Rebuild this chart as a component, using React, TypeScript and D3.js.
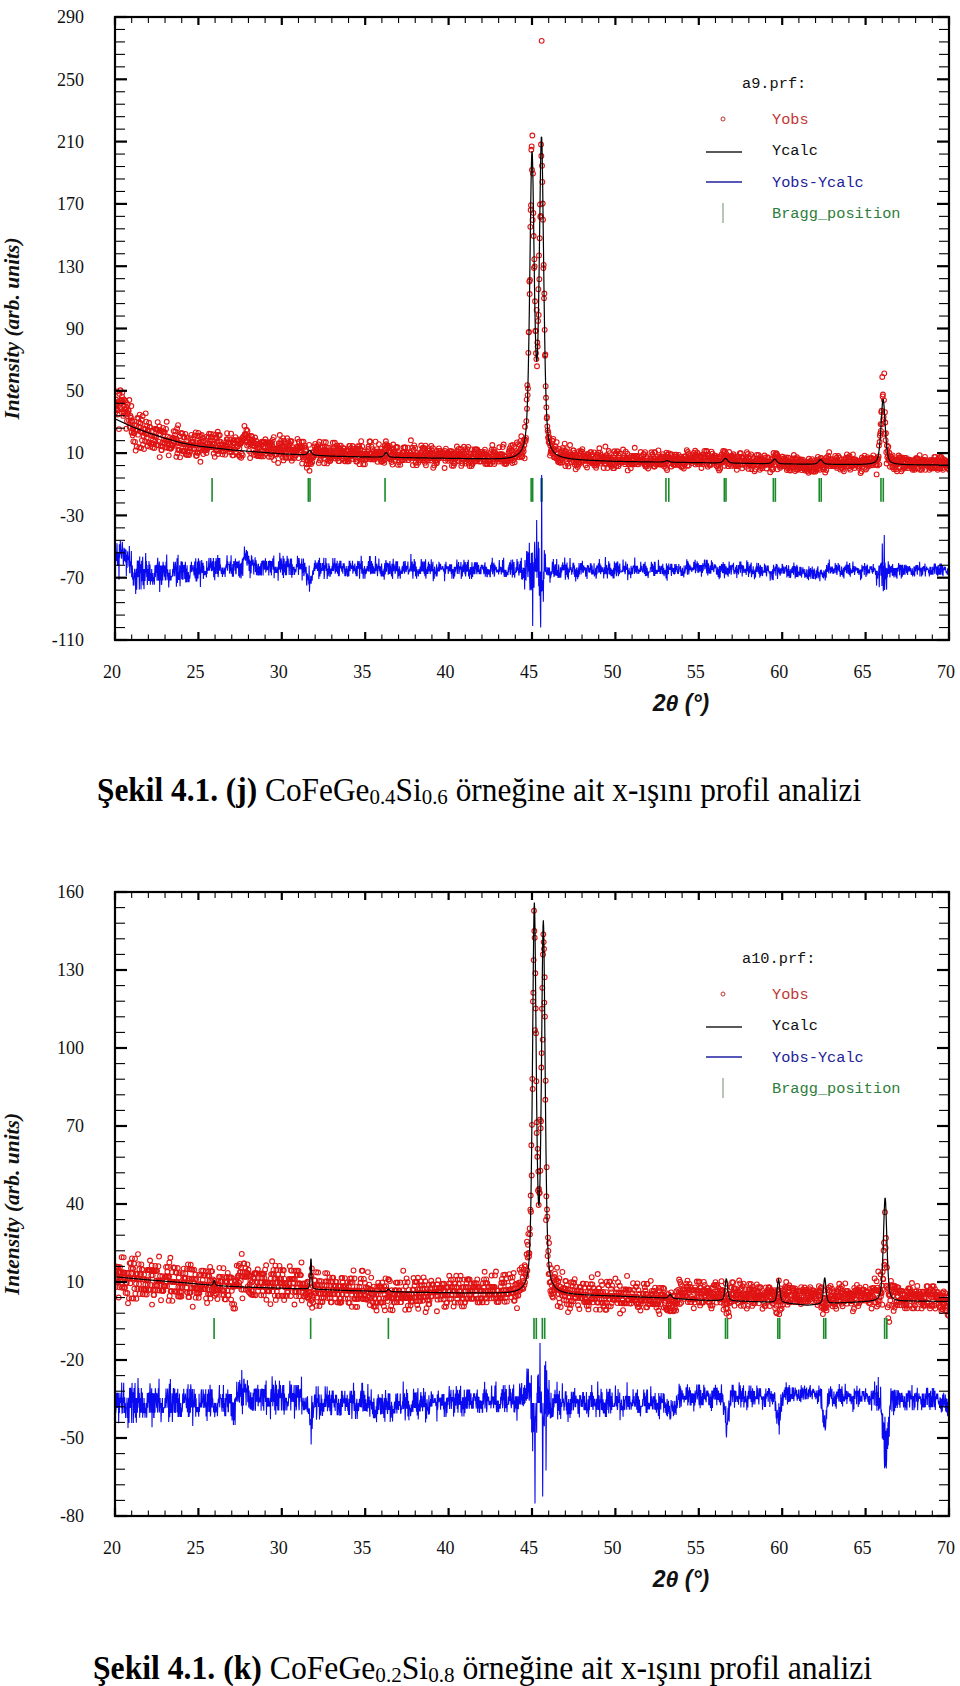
import React, { useMemo } from "react";
import * as d3 from "d3";

// ---------------- shared axis data ----------------
const X_MIN = 20;
const X_MAX = 70;
const STEP = 0.02; // instrument step (deg)
const X_TICKS = [20, 25, 30, 35, 40, 45, 50, 55, 60, 65, 70];
const X_MINOR_STEP = 1;

// ---------------- panel (j): a9.prf ----------------
const Y_TICKS_J = [290, 250, 210, 170, 130, 90, 50, 10, -30, -70, -110];
const Y_MINOR_J = 8;
// background of Ycalc, read at knots [2theta, intensity]
const BG_J = [
  [20, 32], [21, 27], [22, 23], [23, 19.5], [24, 16.5], [25, 14.5], [27, 12], [30, 9.5],
  [33, 8], [35, 7.5], [40, 6.5], [42, 6], [44, 5], [46, 5], [47, 5.3], [50, 4.5],
  [55, 3.8], [60, 3], [65, 2.5], [70, 2.3],
];
// reflections of Ycalc: [centre, height above background, FWHM]
const PEAKS_J = [
  [31.68, 3, 0.25], [36.25, 3, 0.25], [45.0, 192, 0.31], [45.57, 202, 0.31],
  [53.1, 1, 0.3], [56.6, 3, 0.3], [59.55, 3, 0.3], [62.3, 3, 0.3], [66.05, 42, 0.3],
];
// systematic Yobs - Ycalc [2theta, residual]
const RES_J = [
  [20, 13], [20.4, 11], [20.8, 7], [21.1, -1], [23, -1], [25, 0], [25.5, 2.5], [27.4, 2.5],
  [27.8, 9], [28.2, 4], [28.6, 3], [31.3, 3], [31.6, -7], [31.9, 2], [40, 1.5], [44.4, 1],
  [44.5, 0], [46.2, 0], [46.4, 1], [54, 1], [55, 3], [56, 2], [56.6, 0], [57, 2], [59.5, 0],
  [60, 1], [62.3, -2], [62.7, 1], [65.5, 1], [65.7, 0], [66.4, 0], [66.6, 1], [70, 1],
];
// single-point spikes of the difference curve [2theta, residual]
const SPIKES_J = [
  [44.58, 5], [44.68, 16], [44.78, 10], [44.88, -7], [45.04, -23], [45.18, 18], [45.28, 37],
  [45.38, 10], [45.52, -36], [45.58, 62], [45.68, -14], [45.88, -8], [46.08, -5],
  [65.66, -5], [65.86, 6], [66.0, 2], [66.06, -16], [66.12, 11], [66.26, -9.5],
];
const BRAGG_J = [
  25.82, 31.59, 31.69, 36.19, 44.95, 45.04, 45.55, 45.6, 53.03, 53.2, 56.53, 56.63,
  59.47, 59.59, 62.22, 62.34, 65.92, 66.06,
];

// ---------------- panel (k): a10.prf ----------------
const Y_TICKS_K = [160, 130, 100, 70, 40, 10, -20, -50, -80];
const Y_MINOR_K = 6;
const BG_K = [
  [20, 12], [22, 10.8], [24, 9.8], [26, 8.6], [28, 8], [31.5, 7.3], [34, 6.7], [38, 6],
  [42, 5.6], [44, 5.2], [46.5, 5], [50, 4.5], [53, 3.8], [55, 3], [58, 2.5], [60, 2],
  [61.5, 1], [63, 1.8], [65, 2.3], [68, 2.6], [70, 2.5],
];
const PEAKS_K = [
  [25.95, 2, 0.12], [31.75, 12, 0.09], [36.4, 1, 0.15], [45.14, 147, 0.26], [45.68, 140, 0.26],
  [53.28, 1.5, 0.2], [56.65, 8.5, 0.18], [59.78, 9, 0.18], [62.55, 10, 0.18], [66.17, 40, 0.25],
];
const RES_K = [
  [20, 0], [27.2, 0], [27.5, 4], [27.9, 4], [28.2, 2], [31.4, 2], [31.72, -8], [31.95, 0],
  [35, 0], [35.5, -1.3], [37, -1], [40, 0.6], [44.4, 1], [44.75, 6], [44.95, 0], [52.9, 0],
  [53.25, -4], [53.6, 0], [54, 2.5], [56.4, 2.5], [56.65, -8], [56.9, 2.5], [59.5, 2.5],
  [59.75, -8], [60, 3], [62.25, 4], [62.53, -9], [62.8, 2.5], [65.6, 2.5], [65.9, 0],
  [66.12, -16], [66.3, -12], [66.5, 0], [66.7, 1.5], [69.4, 1.5], [70, -2.5],
];
const SPIKES_K = [
  [27.6, 7], [31.74, -6], [44.78, 8], [45.08, -11], [45.18, -28], [45.28, -24], [45.38, 11],
  [45.48, 23], [45.58, -8], [45.64, -36], [45.74, -9], [45.84, -26], [45.88, 19], [46.04, 6],
  [65.76, 7.5], [65.96, -6], [66.12, -8], [66.26, -3],
];
const BRAGG_K = [
  25.94, 31.73, 36.39, 45.12, 45.26, 45.62, 45.76, 53.2, 53.3, 56.6, 56.72, 59.74, 59.85,
  62.49, 62.61, 66.14, 66.27,
];

// counting-noise tables (typed residual pattern)
const NOISE_A = [
  1, -2, 0, 2, -1, -1, 3, 0, -2, 1, 0, 1, -3, 1, -1, 0, 2, -2, -1, 1, 0, -1, 2, -1, 1, 0, -2, 0,
  1, -1, 0, 2, -1, 3, -2, 0, -1, 1, 1, -3, 0, 1, -2, 2, 0, -1, 1, -1, 0, 2, -2, 1, -1, 0, 1, -2,
  1, 0, -1, 2, -1,
];
const NOISE_B = [
  -1, 2, 0, -2, 1, 2, -1, 0, -2, 1, -1, 3, 0, -3, 1, 0, 2, -1, 1, -2, 0, 1, -1, 2, -2, 0, 1, -1,
  2, -2, 0, -1, 1, 2, -3, 0, 1, -1, 0, 2, -2, 1, 0, -1, 3, -1, -2, 1, 0, 2, -1, 1, -2,
];

const PANEL_J = {
  id: "j", file: "a9.prf:", yDomain: [-110, 290], yTicks: Y_TICKS_J, yMinor: Y_MINOR_J,
  bg: BG_J, peaks: PEAKS_J, res: RES_J, spikes: SPIKES_J, bragg: BRAGG_J,
  braggSpan: [-6, -21.3], offset: -66, noiseK: 1.6, noiseShift: 0,
};
const PANEL_K = {
  id: "k", file: "a10.prf:", yDomain: [-80, 160], yTicks: Y_TICKS_K, yMinor: Y_MINOR_K,
  bg: BG_K, peaks: PEAKS_K, res: RES_K, spikes: SPIKES_K, bragg: BRAGG_K,
  braggSpan: [-3.8, -11.9], offset: -36.5, noiseK: 1.6, noiseShift: 23,
};

// ---------------- layout ----------------
const W = 960;
const H = 1686;
const LEFT = 115;
const RIGHT = 949;
const LAYOUT_J = { top: 17, bottom: 640, capX: 97, capY: 801, capScale: 0.95 };
const LAYOUT_K = { top: 892, bottom: 1516, capX: 93, capY: 1679, capScale: 0.96 };

const SERIF = "'Liberation Serif', 'Times New Roman', serif";
const SANS = "'Liberation Sans', Arial, sans-serif";
const MONO = "'Liberation Mono', 'DejaVu Sans Mono', monospace";

type Pt = { x: number; calc: number; obs: number; diff: number };

function pv(x: number, c: number, h: number, w: number) {
  const t = (x - c) / w;
  const eta = 0.5;
  return h * (eta / (1 + 4 * t * t) + (1 - eta) * Math.exp(-4 * Math.LN2 * t * t));
}

function buildSeries(cfg: any): Pt[] {
  const bgS = d3.scaleLinear().domain(cfg.bg.map((d: number[]) => d[0])).range(cfg.bg.map((d: number[]) => d[1])).clamp(true);
  const resS = d3.scaleLinear().domain(cfg.res.map((d: number[]) => d[0])).range(cfg.res.map((d: number[]) => d[1])).clamp(true);
  const spikes = new Map<number, number>();
  cfg.spikes.forEach(([sx, dy]: number[]) => spikes.set(Math.round((sx - X_MIN) / STEP), dy));
  const n = Math.round((X_MAX - X_MIN) / STEP);
  const out: Pt[] = [];
  for (let i = 0; i <= n; i++) {
    const x = X_MIN + i * STEP;
    let calc = bgS(x);
    for (const [c, h, w] of cfg.peaks) calc += pv(x, c, h, w);
    const j = i + cfg.noiseShift;
    const u = (NOISE_A[j % NOISE_A.length] + NOISE_B[(7 * j + 3) % NOISE_B.length]) / 2.2;
    const noise = cfg.noiseK * Math.pow(Math.max(calc, 1), 0.4) * u;
    const obs = calc + resS(x) + (spikes.get(i) ?? 0) + noise;
    out.push({ x, calc, obs, diff: cfg.offset + obs - calc });
  }
  return out;
}

function Legend({ top, file }: { top: number; file: string }) {
  const tx = 772;
  return (
    <g fontFamily={MONO} fontSize={15.3}>
      <text x={742} y={top + 71} fill="#111">{file}</text>
      <circle cx={723} cy={top + 102} r={2} fill="none" stroke="#c03030" strokeWidth={1} />
      <text x={tx} y={top + 107} fill="#c03838">Yobs</text>
      <line x1={706} x2={742} y1={top + 135} y2={top + 135} stroke="#222" strokeWidth={1.5} />
      <text x={tx} y={top + 138} fill="#111">Ycalc</text>
      <line x1={706} x2={742} y1={top + 165} y2={top + 165} stroke="#2020a0" strokeWidth={1.5} />
      <text x={tx} y={top + 170} fill="#23239a">Yobs-Ycalc</text>
      <line x1={723} x2={723} y1={top + 186} y2={top + 206} stroke="#6a8f6a" strokeWidth={1} />
      <text x={tx} y={top + 201} fill="#2d7d3a">Bragg_position</text>
    </g>
  );
}

function Caption({ x, y, scale, letter, ge, si }: { x: number; y: number; scale: number; letter: string; ge: string; si: string }) {
  return (
    <g transform={`translate(${x}, ${y}) scale(${scale}, 1)`}>
      <text x={0} y={0} fontFamily={SERIF} fontSize={33} fill="#000">
        <tspan fontWeight="bold">{`Şekil 4.1. (${letter})`}</tspan>
        <tspan>{" CoFeGe"}</tspan>
        <tspan fontSize={22} dy={3}>{ge}</tspan>
        <tspan dy={-3}>{"Si"}</tspan>
        <tspan fontSize={22} dy={3}>{si}</tspan>
        <tspan dy={-3}>{" örneğine ait x-ışını profil analizi"}</tspan>
      </text>
    </g>
  );
}

function Panel({ cfg, lay }: { cfg: any; lay: any }) {
  const x = d3.scaleLinear().domain([X_MIN, X_MAX]).range([LEFT, RIGHT]);
  const y = d3.scaleLinear().domain(cfg.yDomain).range([lay.bottom, lay.top]);
  const pts = useMemo(() => buildSeries(cfg), [cfg]);
  const calcPath = d3.line<Pt>().x((d) => x(d.x)).y((d) => y(d.calc))(pts) || "";
  const diffPath = d3.line<Pt>().x((d) => x(d.x)).y((d) => y(d.diff))(pts) || "";
  const clipId = `clip-${cfg.id}`;
  const yMinor = d3
    .range(cfg.yDomain[0], cfg.yDomain[1] + 1e-6, cfg.yMinor)
    .filter((v: number) => !cfg.yTicks.includes(v));
  const xMinor = d3.range(X_MIN, X_MAX + 1e-6, X_MINOR_STEP).filter((v) => !X_TICKS.includes(v));
  const midY = (lay.top + lay.bottom) / 2;

  return (
    <g>
      <defs>
        <clipPath id={clipId}>
          <rect x={LEFT} y={lay.top} width={RIGHT - LEFT} height={lay.bottom - lay.top} />
        </clipPath>
      </defs>
      <g clipPath={`url(#${clipId})`}>
        <g fill="none" stroke="#e01414" strokeWidth={1.1}>
          {pts.map((d, i) => (
            <circle key={i} cx={x(d.x)} cy={y(d.obs)} r={2.4} />
          ))}
        </g>
        <path d={calcPath} fill="none" stroke="#000" strokeWidth={1.2} />
        {cfg.bragg.map((b: number, i: number) => (
          <line key={i} x1={x(b)} x2={x(b)} y1={y(cfg.braggSpan[0])} y2={y(cfg.braggSpan[1])} stroke="#1a8a2a" strokeWidth={1.6} />
        ))}
        <path d={diffPath} fill="none" stroke="#0a0af0" strokeWidth={1.1} />
      </g>

      {/* frame */}
      <rect x={LEFT} y={lay.top} width={RIGHT - LEFT} height={lay.bottom - lay.top} fill="none" stroke="#000" strokeWidth={2.2} />

      {/* y ticks */}
      {cfg.yTicks.map((v: number) => (
        <g key={`ym${v}`}>
          <line x1={LEFT} x2={LEFT + 12} y1={y(v)} y2={y(v)} stroke="#000" strokeWidth={2.2} />
          <line x1={RIGHT} x2={RIGHT - 12} y1={y(v)} y2={y(v)} stroke="#000" strokeWidth={2.2} />
          <text x={84} y={y(v)} dy="0.35em" textAnchor="end" fontFamily={SERIF} fontSize={18} fill="#111">
            {v}
          </text>
        </g>
      ))}
      {yMinor.map((v: number) => (
        <g key={`yn${v}`}>
          <line x1={LEFT} x2={LEFT + 10} y1={y(v)} y2={y(v)} stroke="#000" strokeWidth={1.1} />
          <line x1={RIGHT} x2={RIGHT - 10} y1={y(v)} y2={y(v)} stroke="#000" strokeWidth={1.1} />
        </g>
      ))}

      {/* x ticks */}
      {X_TICKS.map((v) => (
        <g key={`xm${v}`}>
          <line x1={x(v)} x2={x(v)} y1={lay.bottom} y2={lay.bottom - 8} stroke="#000" strokeWidth={2.2} />
          <line x1={x(v)} x2={x(v)} y1={lay.top} y2={lay.top + 8} stroke="#000" strokeWidth={2.2} />
          <text x={x(v) - 3} y={lay.bottom + 38} textAnchor="middle" fontFamily={SERIF} fontSize={18} fill="#111">
            {v}
          </text>
        </g>
      ))}
      {xMinor.map((v) => (
        <g key={`xn${v}`}>
          <line x1={x(v)} x2={x(v)} y1={lay.bottom} y2={lay.bottom - 5.5} stroke="#000" strokeWidth={1.1} />
          <line x1={x(v)} x2={x(v)} y1={lay.top} y2={lay.top + 6} stroke="#000" strokeWidth={1.1} />
        </g>
      ))}

      {/* axis titles */}
      <text x={681} y={lay.bottom + 71} textAnchor="middle" fontFamily={SANS} fontWeight="bold" fontStyle="italic" fontSize={23} fill="#111">
        2θ (°)
      </text>
      <text
        transform={`translate(18.5, ${midY}) rotate(-90)`}
        textAnchor="middle"
        fontFamily={SERIF}
        fontWeight="bold"
        fontStyle="italic"
        fontSize={21.5}
        fill="#111"
      >
        Intensity (arb. units)
      </text>

      <Legend top={lay.top} file={cfg.file} />
    </g>
  );
}

export default function App() {
  return (
    <svg
      width={W}
      height={H}
      viewBox={`0 0 ${W} ${H}`}
      style={{ position: "absolute", left: 0, top: 0, background: "#fff" }}
    >
      <rect x={0} y={0} width={W} height={H} fill="#fff" />
      <Panel cfg={PANEL_J} lay={LAYOUT_J} />
      <Caption x={LAYOUT_J.capX} y={LAYOUT_J.capY} scale={LAYOUT_J.capScale} letter="j" ge="0.4" si="0.6" />
      <Panel cfg={PANEL_K} lay={LAYOUT_K} />
      <Caption x={LAYOUT_K.capX} y={LAYOUT_K.capY} scale={LAYOUT_K.capScale} letter="k" ge="0.2" si="0.8" />
    </svg>
  );
}
